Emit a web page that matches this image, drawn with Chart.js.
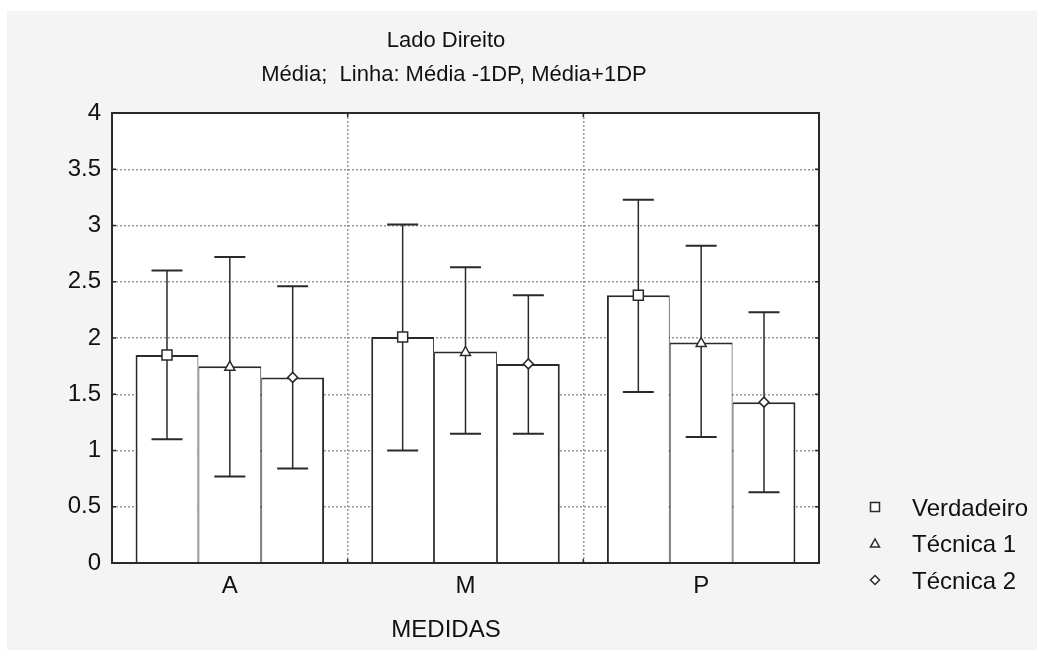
<!DOCTYPE html>
<html>
<head>
<meta charset="utf-8">
<script src="https://cdn.jsdelivr.net/npm/chart.js@4/dist/chart.umd.min.js"></script>
<style>
html, body { margin: 0; padding: 0; background: #ffffff; }
#wrap { width: 1037px; height: 650px; position: relative; }
</style>
</head>
<body>
<div id="wrap"><canvas id="chart"></canvas></div>
<script>
// ---- data ----
const categories = ["A", "M", "P"];
const seriesNames = ["Verdadeiro", "Técnica 1", "Técnica 2"];
const seriesMarkers = ["square", "triangle", "diamond"];

const verdadeiroMean = [1.85, 2.01, 2.38];
const verdadeiroLow  = [1.10, 1.00, 1.52];
const verdadeiroHigh = [2.60, 3.01, 3.23];

const tecnica1Mean = [1.75, 1.88, 1.96];
const tecnica1Low  = [0.77, 1.15, 1.12];
const tecnica1High = [2.72, 2.63, 2.82];

const tecnica2Mean = [1.65, 1.77, 1.43];
const tecnica2Low  = [0.84, 1.15, 0.63];
const tecnica2High = [2.46, 2.38, 2.23];

const yTicks = [0, 0.5, 1, 1.5, 2, 2.5, 3, 3.5, 4];

const titleText = "Lado Direito";
const subtitleText = "Média;  Linha: Média -1DP, Média+1DP";
const xTitleText = "MEDIDAS";

const lows = [verdadeiroLow, tecnica1Low, tecnica2Low];
const highs = [verdadeiroHigh, tecnica1High, tecnica2High];

const FONT = "'Liberation Sans', Arial, Helvetica, sans-serif";
const INK = "#111111";
const LINE = "#2a2a2a";
const GRID = "#9a9a9a";

// -----------------------------
// MARKERS
// -----------------------------
function marker(ctx, kind, x, y, r, lw) {
ctx.save();
ctx.beginPath();
if (kind === "square") {
ctx.rect(x - r, y - r, 2 * r, 2 * r);
} else if (kind === "triangle") {
ctx.moveTo(x, y - r);
ctx.lineTo(x + r, y + r * 0.8);
ctx.lineTo(x - r, y + r * 0.8);
ctx.closePath();
} else {
ctx.moveTo(x, y - r);
ctx.lineTo(x + r, y);
ctx.lineTo(x, y + r);
ctx.lineTo(x - r, y);
ctx.closePath();
}
ctx.fillStyle = "#ffffff";
ctx.fill();
ctx.lineWidth = lw;
ctx.strokeStyle = LINE;
ctx.stroke();
ctx.restore();
}

// -----------------------------
// PLUGIN: background, error bars, frame, texts
// -----------------------------
const decor = {
id: "decor",
beforeDraw(chart) {
const { ctx, width, height, chartArea: a } = chart;
ctx.save();
ctx.fillStyle = "#ffffff";
ctx.fillRect(0, 0, width, height);
ctx.fillStyle = "#f4f4f4";
ctx.fillRect(7, 11, width - 7, height - 11);
ctx.fillStyle = "#ffffff";
ctx.fillRect(a.left, a.top, a.right - a.left, a.bottom - a.top);
ctx.restore();
},
afterDatasetsDraw(chart) {
const ctx = chart.ctx;
const ys = chart.scales.y;
ctx.save();
chart.data.datasets.forEach((ds, d) => {
const meta = chart.getDatasetMeta(d);
meta.data.forEach((bar, i) => {
const x = bar.x;
const yl = ys.getPixelForValue(lows[d][i]);
const yh = ys.getPixelForValue(highs[d][i]);
ctx.strokeStyle = LINE;
ctx.lineWidth = 1.5;
ctx.beginPath();
ctx.moveTo(x, yl);
ctx.lineTo(x, yh);
ctx.stroke();
ctx.lineWidth = 2;
ctx.beginPath();
ctx.moveTo(x - 15.5, yl);
ctx.lineTo(x + 15.5, yl);
ctx.moveTo(x - 15.5, yh);
ctx.lineTo(x + 15.5, yh);
ctx.stroke();
marker(ctx, seriesMarkers[d], x, ys.getPixelForValue(ds.data[i]), 5, 1.5);
});
});
ctx.restore();
},
afterDraw(chart) {
const { ctx, chartArea: a } = chart;
const ys = chart.scales.y;
const xs = chart.scales.x;
ctx.save();

// frame
ctx.strokeStyle = LINE;
ctx.lineWidth = 2;
ctx.strokeRect(a.left, a.top, a.right - a.left, a.bottom - a.top);

// small inner ticks
ctx.lineWidth = 1.5;
ctx.beginPath();
yTicks.forEach(v => {
const y = ys.getPixelForValue(v);
ctx.moveTo(a.left, y); ctx.lineTo(a.left + 4, y);
ctx.moveTo(a.right, y); ctx.lineTo(a.right - 4, y);
});
for (let i = 1; i < categories.length; i++) {
const x = (xs.getPixelForValue(i - 1) + xs.getPixelForValue(i)) / 2;
ctx.moveTo(x, a.bottom); ctx.lineTo(x, a.bottom - 4);
ctx.moveTo(x, a.top); ctx.lineTo(x, a.top + 4);
}
ctx.stroke();

// titles
ctx.fillStyle = INK;
ctx.textAlign = "center";
ctx.textBaseline = "alphabetic";
ctx.font = "22px " + FONT;
ctx.fillText(titleText, 446, 47);
ctx.fillText(subtitleText, 454, 81);
ctx.font = "24px " + FONT;
ctx.fillText(xTitleText, 446, 637);

// legend
ctx.textAlign = "left";
const rows = [507, 543.5, 580];
seriesNames.forEach((name, i) => {
marker(ctx, seriesMarkers[i], 875, rows[i], 4.5, 1.5);
ctx.fillStyle = INK;
ctx.fillText(name, 912, rows[i] + 8.5);
});
ctx.restore();
}
};

// -----------------------------
// CHART
// -----------------------------
function barBorder(c) {
const d = c.datasetIndex;
return {
top: 2,
bottom: 0,
left: d === 0 ? 2 : 1,
right: d === seriesNames.length - 1 ? 2 : 1
};
}

const barStyle = {
backgroundColor: "#ffffff",
borderColor: LINE,
borderWidth: barBorder,
borderSkipped: false,
categoryPercentage: 0.8,
barPercentage: 1.0
};

new Chart(document.getElementById("chart").getContext("2d"), {
type: "bar",
data: {
labels: categories,
datasets: [
Object.assign({ label: seriesNames[0], data: verdadeiroMean }, barStyle),
Object.assign({ label: seriesNames[1], data: tecnica1Mean }, barStyle),
Object.assign({ label: seriesNames[2], data: tecnica2Mean }, barStyle)
]
},
options: {
responsive: true,
maintainAspectRatio: false,
animation: false,
layout: { padding: { top: 113, right: 218, left: 0, bottom: 0 } },
plugins: {
legend: { display: false },
title: { display: false },
tooltip: { enabled: false }
},
scales: {
x: {
grid: { color: GRID, lineWidth: 1.5, drawTicks: false, offset: true },
border: { display: false, dash: [2, 2] },
ticks: { color: INK, font: { family: FONT, size: 24 }, padding: 9 },
afterFit(s) { s.height = 87; }
},
y: {
min: 0,
max: 4,
afterBuildTicks(s) { s.ticks = yTicks.map(v => ({ value: v })); },
grid: { color: GRID, lineWidth: 1.5, drawTicks: false },
border: { display: false, dash: [2, 2] },
ticks: {
color: INK,
font: { family: FONT, size: 24 },
padding: 11,
callback: v => String(v)
},
afterFit(s) { s.width = 112; }
}
}
},
plugins: [decor]
});
</script>
</body>
</html>
